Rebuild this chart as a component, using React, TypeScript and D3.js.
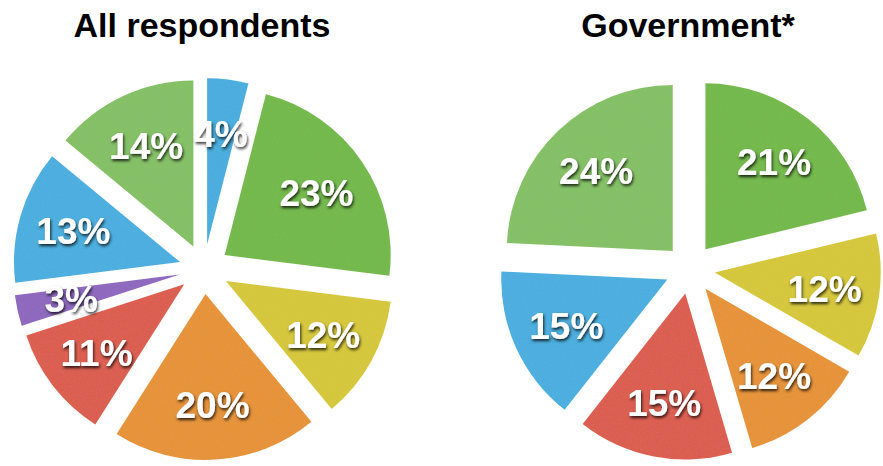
import React from "react";
import * as d3 from "d3";

const allLabels = ["4%", "23%", "12%", "20%", "11%", "3%", "13%", "14%"];
const allValues = [4, 23, 12, 20, 11, 3, 13, 14];
const allColors = ["#3FADE0", "#70B943", "#D7C82E", "#E8912C", "#DD5846", "#8C63BF", "#42AEE1", "#82C161"];

const govLabels = ["21%", "12%", "12%", "15%", "15%", "24%"];
const govValues = [21, 12, 12, 15, 15, 24];
const govColors = ["#70B943", "#D7C82E", "#E8912C", "#DD5846", "#42AEE1", "#82C161"];

const titles = ["All respondents", "Government*"];

const W = 883;
const H = 466;
const R = 166;
const OFFSET = 25;
const LABEL_R = 111;

function Pie({ cx, cy, values, labels, colors, title }: any) {
  const pie = d3.pie<number>().sort(null).value((d) => d);
  const arcs = pie(values);
  const arc = d3.arc<any>().innerRadius(0).outerRadius(R);
  return (
    <g>
      <text
        x={cx - 2}
        y={37}
        textAnchor="middle"
        fontFamily="'Liberation Sans', Arial, sans-serif"
        fontWeight="bold"
        fontSize={34}
        fill="#000"
      >
        {title}
      </text>
      {arcs.map((a, i) => {
        const mid = (a.startAngle + a.endAngle) / 2;
        const dx = Math.sin(mid) * OFFSET;
        const dy = -Math.cos(mid) * OFFSET;
        return (
          <g key={"s" + i} transform={`translate(${cx + dx},${cy + dy})`}>
            <path d={arc(a) as string} fill={colors[i]} filter="url(#grain)" />
          </g>
        );
      })}
      {arcs.map((a, i) => {
        const mid = (a.startAngle + a.endAngle) / 2;
        const d = OFFSET + LABEL_R;
        const x = cx + Math.sin(mid) * d;
        const y = cy - Math.cos(mid) * d;
        return (
          <text
            key={"l" + i}
            x={x}
            y={y}
            dy="0.36em"
            textAnchor="middle"
            fontFamily="'Liberation Sans', Arial, sans-serif"
            fontWeight="bold"
            fontSize={37}
            fill="#fff"
            filter="url(#shadow)"
          >
            {labels[i]}
          </text>
        );
      })}
    </g>
  );
}

export default function App() {
  return (
    <svg
      width={W}
      height={H}
      style={{ position: "absolute", left: 0, top: 0, background: "#fff" }}
    >
      <defs>
        <filter id="shadow" x="-20%" y="-30%" width="140%" height="170%">
          <feDropShadow dx="1" dy="2" stdDeviation="1.6" floodColor="#000" floodOpacity="0.8" />
        </filter>
        <filter id="grain" x="0" y="0" width="100%" height="100%">
          <feTurbulence type="fractalNoise" baseFrequency="0.8" numOctaves="2" seed="3" result="noise" />
          <feColorMatrix
            in="noise"
            type="matrix"
            values="0 0 0 0 0.5  0 0 0 0 0.5  0 0 0 0 0.5  0 0 0 0.1 0"
            result="wn"
          />
          <feComposite in="wn" in2="SourceGraphic" operator="in" result="wnc" />
          <feMerge>
            <feMergeNode in="SourceGraphic" />
            <feMergeNode in="wnc" />
          </feMerge>
        </filter>
      </defs>
      <Pie cx={204} cy={269} values={allValues} labels={allLabels} colors={allColors} title={titles[0]} />
      <Pie cx={690} cy={269} values={govValues} labels={govLabels} colors={govColors} title={titles[1]} />
    </svg>
  );
}
